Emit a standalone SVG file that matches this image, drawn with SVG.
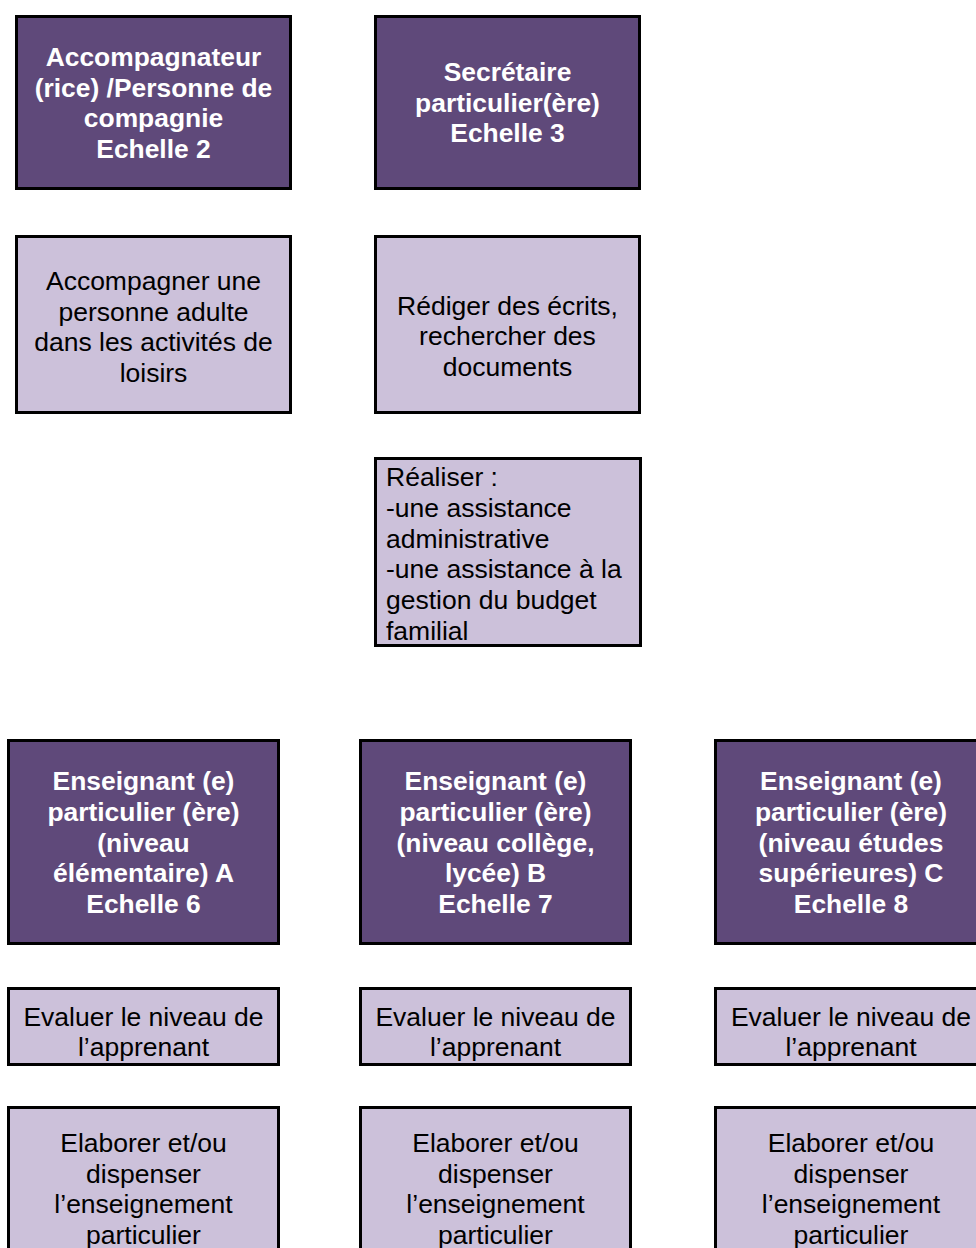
<svg xmlns="http://www.w3.org/2000/svg" width="976" height="1248" viewBox="0 0 976 1248">
<style>
.dk{fill:#5f497a;stroke:#000;stroke-width:3}
.lt{fill:#ccc1da;stroke:#000;stroke-width:3}
.tb{font-family:"Liberation Sans",Arial,sans-serif;font-size:26.4px;font-weight:bold;fill:#fff;text-anchor:middle}
.tr{font-family:"Liberation Sans",Arial,sans-serif;font-size:26.5px;fill:#000;text-anchor:middle}
.tl{font-family:"Liberation Sans",Arial,sans-serif;font-size:26.5px;fill:#000}
</style>
<rect width="976" height="1248" fill="#fff"/>
<g id="connectors"></g>
<g id="n1">
<rect class="dk" x="16.5" y="16.5" width="274" height="172"/>
<text class="tb"><tspan x="153.5" y="66">Accompagnateur</tspan><tspan x="153.5" y="96.5">(rice) /Personne de</tspan><tspan x="153.5" y="127">compagnie</tspan><tspan x="153.5" y="157.5">Echelle 2</tspan></text>
</g>
<g id="n2">
<rect class="dk" x="375.5" y="16.5" width="264" height="172"/>
<text class="tb"><tspan x="507.5" y="81">Secrétaire</tspan><tspan x="507.5" y="111.5">particulier(ère)</tspan><tspan x="507.5" y="142">Echelle 3</tspan></text>
</g>
<g id="n3">
<rect class="lt" x="16.5" y="236.5" width="274" height="176"/>
<text class="tr"><tspan x="153.5" y="290">Accompagner une</tspan><tspan x="153.5" y="320.5">personne adulte</tspan><tspan x="153.5" y="351">dans les activités de</tspan><tspan x="153.5" y="381.5">loisirs</tspan></text>
</g>
<g id="n4">
<rect class="lt" x="375.5" y="236.5" width="264" height="176"/>
<text class="tr"><tspan x="507.5" y="314.5">Rédiger des écrits,</tspan><tspan x="507.5" y="345">rechercher des</tspan><tspan x="507.5" y="375.5">documents</tspan></text>
</g>
<g id="n5">
<rect class="lt" x="375.5" y="458.5" width="265" height="187"/>
<text class="tl"><tspan x="386" y="486">Réaliser :</tspan><tspan x="386" y="517">-une assistance</tspan><tspan x="386" y="547.5">administrative</tspan><tspan x="386" y="578">-une assistance à la</tspan><tspan x="386" y="609">gestion du budget</tspan><tspan x="386" y="639.5">familial</tspan></text>
</g>
<g id="n6">
<rect class="dk" x="8.5" y="740.5" width="270" height="203"/>
<text class="tb"><tspan x="143.5" y="790">Enseignant (e)</tspan><tspan x="143.5" y="821">particulier (ère)</tspan><tspan x="143.5" y="851.5">(niveau</tspan><tspan x="143.5" y="882">élémentaire) A</tspan><tspan x="143.5" y="912.5">Echelle 6</tspan></text>
</g>
<g id="n7">
<rect class="dk" x="360.5" y="740.5" width="270" height="203"/>
<text class="tb"><tspan x="495.5" y="790">Enseignant (e)</tspan><tspan x="495.5" y="821">particulier (ère)</tspan><tspan x="495.5" y="851.5">(niveau collège,</tspan><tspan x="495.5" y="882">lycée) B</tspan><tspan x="495.5" y="912.5">Echelle 7</tspan></text>
</g>
<g id="n8">
<rect class="dk" x="715.5" y="740.5" width="270" height="203"/>
<text class="tb"><tspan x="851" y="790">Enseignant (e)</tspan><tspan x="851" y="821">particulier (ère)</tspan><tspan x="851" y="851.5">(niveau études</tspan><tspan x="851" y="882">supérieures) C</tspan><tspan x="851" y="912.5">Echelle 8</tspan></text>
</g>
<g id="n9">
<rect class="lt" x="8.5" y="988.5" width="270" height="76"/>
<text class="tr"><tspan x="143.5" y="1026">Evaluer le niveau de</tspan><tspan x="143.5" y="1056">l’apprenant</tspan></text>
</g>
<g id="n10">
<rect class="lt" x="360.5" y="988.5" width="270" height="76"/>
<text class="tr"><tspan x="495.5" y="1026">Evaluer le niveau de</tspan><tspan x="495.5" y="1056">l’apprenant</tspan></text>
</g>
<g id="n11">
<rect class="lt" x="715.5" y="988.5" width="270" height="76"/>
<text class="tr"><tspan x="851" y="1026">Evaluer le niveau de</tspan><tspan x="851" y="1056">l’apprenant</tspan></text>
</g>
<g id="n12">
<rect class="lt" x="8.5" y="1107.5" width="270" height="200"/>
<text class="tr"><tspan x="143.5" y="1152">Elaborer et/ou</tspan><tspan x="143.5" y="1182.5">dispenser</tspan><tspan x="143.5" y="1213">l’enseignement</tspan><tspan x="143.5" y="1243.5">particulier</tspan></text>
</g>
<g id="n13">
<rect class="lt" x="360.5" y="1107.5" width="270" height="200"/>
<text class="tr"><tspan x="495.5" y="1152">Elaborer et/ou</tspan><tspan x="495.5" y="1182.5">dispenser</tspan><tspan x="495.5" y="1213">l’enseignement</tspan><tspan x="495.5" y="1243.5">particulier</tspan></text>
</g>
<g id="n14">
<rect class="lt" x="715.5" y="1107.5" width="270" height="200"/>
<text class="tr"><tspan x="851" y="1152">Elaborer et/ou</tspan><tspan x="851" y="1182.5">dispenser</tspan><tspan x="851" y="1213">l’enseignement</tspan><tspan x="851" y="1243.5">particulier</tspan></text>
</g>
</svg>
